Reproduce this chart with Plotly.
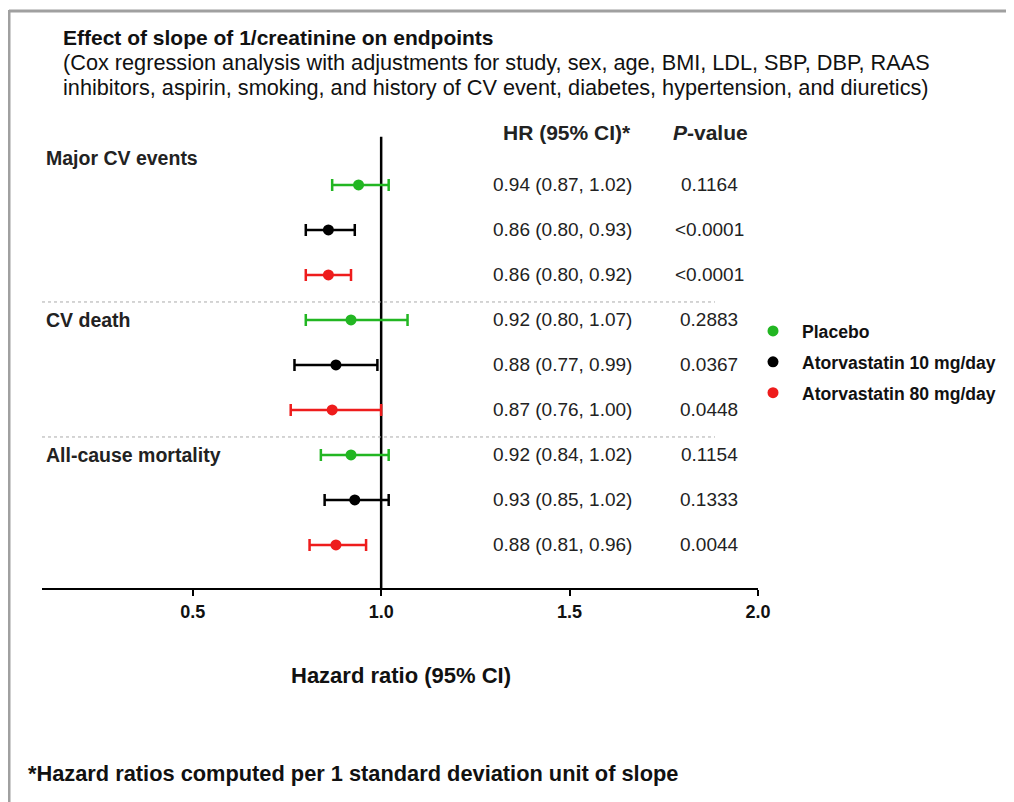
import plotly.graph_objects as go

# ---- data ----
groups = ["Major CV events", "CV death", "All-cause mortality"]
treatments = ["Placebo", "Atorvastatin 10 mg/day", "Atorvastatin 80 mg/day"]
colors = ["#22b622", "#000000", "#ee1c1c"]

# HR, lower, upper per group (rows) per treatment
hr = {
    "Placebo": [0.94, 0.92, 0.92],
    "Atorvastatin 10 mg/day": [0.86, 0.88, 0.93],
    "Atorvastatin 80 mg/day": [0.86, 0.87, 0.88],
}
lo = {
    "Placebo": [0.87, 0.80, 0.84],
    "Atorvastatin 10 mg/day": [0.80, 0.77, 0.85],
    "Atorvastatin 80 mg/day": [0.80, 0.76, 0.81],
}
hi = {
    "Placebo": [1.02, 1.07, 1.02],
    "Atorvastatin 10 mg/day": [0.93, 0.99, 1.02],
    "Atorvastatin 80 mg/day": [0.92, 1.00, 0.96],
}
pvals = {
    "Placebo": ["0.1164", "0.2883", "0.1154"],
    "Atorvastatin 10 mg/day": ["<0.0001", "0.0367", "0.1333"],
    "Atorvastatin 80 mg/day": ["<0.0001", "0.0448", "0.0044"],
}
x_ticks = [0.5, 1.0, 1.5, 2.0]

FONT = "Liberation Sans, Arial, sans-serif"


def px(X):
    return (X - 42) / 716


def py(Y):
    return (588 - Y) / 468


fig = go.Figure()

for ti, t in enumerate(treatments):
    ys = [gi * 3 + ti for gi in range(len(groups))]
    fig.add_trace(go.Scatter(
        x=hr[t], y=ys, mode="markers", name=f"<b>{t}</b>", legendgroup=t,
        marker=dict(color=colors[ti], size=11),
        error_x=dict(type="data", symmetric=False,
                     array=[h - m for h, m in zip(hi[t], hr[t])],
                     arrayminus=[m - l for m, l in zip(hr[t], lo[t])],
                     color=colors[ti], thickness=2.5, width=6),
        hoverinfo="skip",
    ))

annotations = []
# table text
for gi in range(len(groups)):
    for ti, t in enumerate(treatments):
        row = gi * 3 + ti
        annotations.append(dict(
            x=px(562), xref="paper", y=row, yref="y",
            text=f"{hr[t][gi]:.2f} ({lo[t][gi]:.2f}, {hi[t][gi]:.2f})",
            showarrow=False, xanchor="center", yanchor="middle",
            font=dict(size=19, color="#222", family=FONT)))
        annotations.append(dict(
            x=px(709), xref="paper", y=row, yref="y",
            text=pvals[t][gi].replace("<", "&lt;"),
            showarrow=False, xanchor="center", yanchor="middle",
            font=dict(size=19, color="#222", family=FONT)))

# group labels
group_y = [-0.6, 3, 6]
for g, gy in zip(groups, group_y):
    annotations.append(dict(
        x=px(44), xref="paper", y=gy, yref="y", text=f"<b>{g}</b>",
        showarrow=False, xanchor="left", yanchor="middle",
        font=dict(size=19.5, color="#222", family=FONT)))

# column headers
annotations.append(dict(x=px(567), xref="paper", y=-1.156, yref="y",
                        text="<b>HR (95% CI)*</b>", showarrow=False,
                        xanchor="center", yanchor="middle",
                        font=dict(size=21, color="#222", family=FONT)))
annotations.append(dict(x=px(710), xref="paper", y=-1.156, yref="y",
                        text="<b><i>P</i>-value</b>", showarrow=False,
                        xanchor="center", yanchor="middle",
                        font=dict(size=21, color="#222", family=FONT)))

# title + subtitle
annotations.append(dict(x=px(61), xref="paper", y=py(38), yref="paper",
                        text="<b>Effect of slope of 1/creatinine on endpoints</b>",
                        showarrow=False, xanchor="left", yanchor="middle", align="left",
                        font=dict(size=21, color="#111", family=FONT)))
annotations.append(dict(x=px(61), xref="paper", y=py(63), yref="paper",
                        text="(Cox regression analysis with adjustments for study, sex, age, BMI, LDL, SBP, DBP, RAAS",
                        showarrow=False, xanchor="left", yanchor="middle", align="left",
                        font=dict(size=21.7, color="#111", family=FONT)))
annotations.append(dict(x=px(61), xref="paper", y=py(87), yref="paper",
                        text="inhibitors, aspirin, smoking, and history of CV event, diabetes, hypertension, and diuretics)",
                        showarrow=False, xanchor="left", yanchor="middle", align="left",
                        font=dict(size=21.7, color="#111", family=FONT)))

# axis title
annotations.append(dict(x=px(401), xref="paper", y=py(675), yref="paper",
                        text="<b>Hazard ratio (95% CI)</b>", showarrow=False,
                        xanchor="center", yanchor="middle",
                        font=dict(size=22, color="#111", family=FONT)))
# footnote
annotations.append(dict(x=px(26), xref="paper", y=py(773), yref="paper",
                        text="<b>*Hazard ratios computed per 1 standard deviation unit of slope</b>",
                        showarrow=False, xanchor="left", yanchor="middle",
                        font=dict(size=21.8, color="#111", family=FONT)))

shapes = [
    # reference line at HR = 1
    dict(type="line", xref="x", yref="y", x0=1.0, x1=1.0, y0=-1.07, y1=8.956,
         line=dict(color="#000", width=2.5), layer="below"),
    # dotted separators
    dict(type="line", xref="paper", yref="y", x0=0.0, x1=px(715), y0=2.6, y1=2.6,
         line=dict(color="#aaaaaa", width=1, dash="dot")),
    dict(type="line", xref="paper", yref="y", x0=0.0, x1=px(715), y0=5.6, y1=5.6,
         line=dict(color="#aaaaaa", width=1, dash="dot")),
    # frame
    dict(type="line", xref="paper", yref="paper", x0=px(9), x1=px(9),
         y0=py(10), y1=py(820), line=dict(color="#a0a0a0", width=3)),
    dict(type="line", xref="paper", yref="paper", x0=px(9), x1=px(1030),
         y0=py(11), y1=py(11), line=dict(color="#a0a0a0", width=3)),
]

fig.update_layout(
    width=1014, height=802,
    margin=dict(l=34, r=264, t=112, b=222),
    paper_bgcolor="white", plot_bgcolor="white",
    font=dict(family=FONT, color="#111"),
    showlegend=True,
    legend=dict(x=px(744), xanchor="left", y=py(313), yanchor="top",
                font=dict(size=17.6, color="#111", family=FONT),
                tracegroupgap=5, itemwidth=48, bgcolor="rgba(0,0,0,0)"),
    annotations=annotations,
    shapes=shapes,
    xaxis=dict(range=[0.1, 2.0], tickvals=x_ticks,
               ticktext=[f"<b>{v:.1f}</b>" for v in x_ticks],
               showline=True, linecolor="#000", linewidth=2,
               ticks="outside", ticklen=6, tickwidth=2, tickcolor="#000",
               showgrid=False, zeroline=False,
               tickfont=dict(size=18, color="#111", family=FONT)),
    yaxis=dict(range=[8.956, -1.444], visible=False, showgrid=False, zeroline=False),
)

fig.write_html("out.html")
